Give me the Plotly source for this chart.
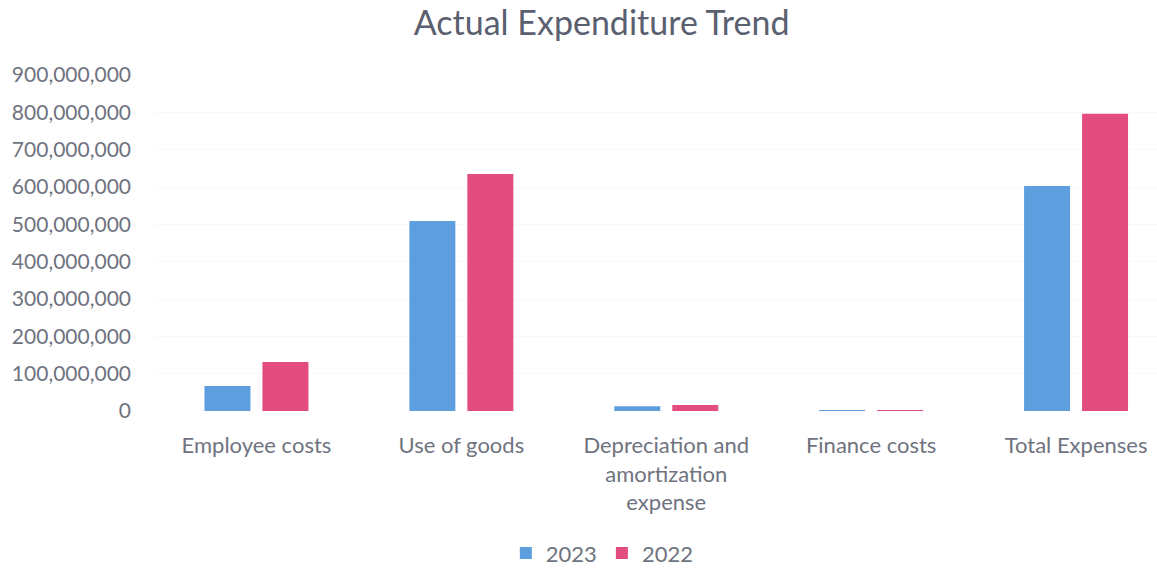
import plotly.graph_objects as go

categories = ["Employee costs", "Use of goods", "Depreciation and<br>amortization<br>expense", "Finance costs", "Total Expenses"]
values_2023 = [67_000_000, 509_000_000, 13_000_000, 1_500_000, 603_000_000]
values_2022 = [131_000_000, 635_000_000, 16_000_000, 1_000_000, 796_000_000]
y_ticks = [0, 100_000_000, 200_000_000, 300_000_000, 400_000_000, 500_000_000, 600_000_000, 700_000_000, 800_000_000, 900_000_000]

blue = "#5D9EDF"
pink = "#E24C7E"
text_col = "#6f7380"
font_fam = "Lato, 'Open Sans', sans-serif"

fig = go.Figure()
fig.add_trace(go.Bar(name="2023", x=categories, y=values_2023, marker_color=blue, marker_line_width=0))
fig.add_trace(go.Bar(name="2022", x=categories, y=values_2022, marker_color=pink, marker_line_width=0))

fig.update_layout(
    width=1157, height=569,
    paper_bgcolor="white", plot_bgcolor="white",
    margin=dict(l=154, r=0, t=75, b=158, autoexpand=False),
    barmode="group", bargap=0.434, bargroupgap=0.207,
    title=dict(text="Actual Expenditure Trend", x=0.52, xanchor="center", y=0.96, yanchor="middle",
               font=dict(family=font_fam, size=34, color="#5a6070")),
    font=dict(family=font_fam, size=22, color=text_col),
    legend=dict(orientation="h", x=0.447, xanchor="center", y=-0.423, yanchor="middle",
                font=dict(size=22, color=text_col), itemwidth=30),
    showlegend=True,
)
fig.update_xaxes(type="category", range=[-0.5, 4.395], showline=False, showgrid=False, automargin=False,
                 tickfont=dict(size=22, color=text_col), ticks="", ticklabelstandoff=19)
fig.update_yaxes(range=[0, 900_000_000], tickvals=y_ticks, tickformat=",d", automargin=False,
                 showgrid=True, gridcolor="rgba(235,230,230,0.25)", zeroline=False, showline=False,
                 tickfont=dict(size=21, color=text_col), ticklabelstandoff=22)

fig.write_html("out.html")
